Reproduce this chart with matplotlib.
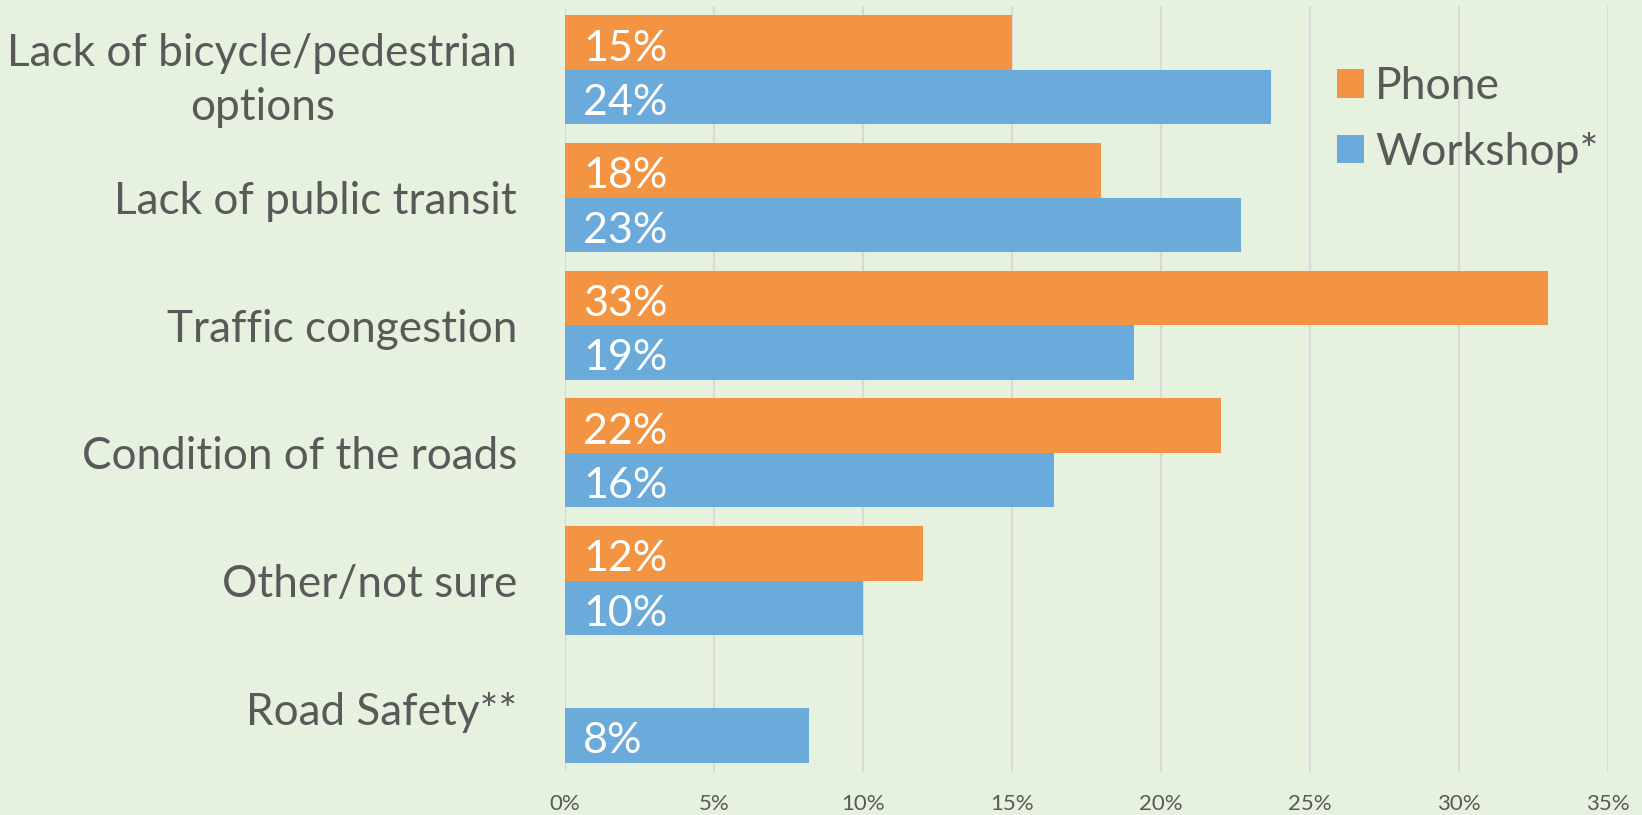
import matplotlib
matplotlib.use("Agg")
import matplotlib.pyplot as plt
import matplotlib.transforms as mtransforms
import numpy as np

categories = ["Lack of bicycle/pedestrian\noptions", "Lack of public transit",
              "Traffic congestion", "Condition of the roads", "Other/not sure",
              "Road Safety**"]
phone = [15, 18, 33, 22, 12, np.nan]
workshop = [23.7, 22.7, 19.1, 16.4, 10.0, 8.2]
workshop_labels = ["24%", "23%", "19%", "16%", "10%", "8%"]
phone_labels = ["15%", "18%", "33%", "22%", "12%", ""]
series_names = ["Phone", "Workshop*"]
xticks = [0, 5, 10, 15, 20, 25, 30, 35]
xtick_labels = ["0%", "5%", "10%", "15%", "20%", "25%", "30%", "35%"]

BG = "#E7F1E0"
ORANGE = "#F29442"
BLUE = "#6AABDC"
TXT = "#595959"
FONT = ["Lato", "DejaVu Sans"]

plt.rcParams['font.family'] = FONT

fig = plt.figure(figsize=(16.42, 8.15), dpi=100, facecolor=BG)
ax = fig.add_axes([565/1642, 1-772/815, (1608-565)/1642, (772-6)/815])
ax.set_facecolor(BG)

y = np.arange(len(categories))
h = 0.427
ax.barh(y - h/2, phone, height=h, color=ORANGE, label=series_names[0], zorder=3)
ax.barh(y + h/2, workshop, height=h, color=BLUE, label=series_names[1], zorder=3)

for i in range(len(categories)):
    if phone_labels[i]:
        ax.annotate(phone_labels[i], (0, y[i] - h/2), xytext=(18, -6), textcoords="offset pixels",
                    ha="left", va="center", color="white", fontsize=31, zorder=4)
    ax.annotate(workshop_labels[i], (0, y[i] + h/2), xytext=(18, -6), textcoords="offset pixels",
                ha="left", va="center", color="white", fontsize=31, zorder=4)

ax.set_xlim(0, 35)
ax.set_ylim(5.5, -0.5)
ax.set_xticks(xticks)
ax.set_xticklabels(xtick_labels, fontsize=16, color=TXT)
ax.set_yticks(y)
ax.set_yticklabels(categories, fontsize=31.8, color=TXT, multialignment="center", linespacing=1.4)
shift = mtransforms.ScaledTranslation(0, -2/72, fig.dpi_scale_trans)
for lbl in ax.get_yticklabels():
    lbl.set_transform(lbl.get_transform() + shift)
ax.tick_params(axis="both", length=0)
ax.tick_params(axis="y", pad=34.5)
ax.tick_params(axis="x", pad=16)
ax.grid(axis="x", color="#D9D9D9", linewidth=1.5, zorder=0)
for s in ax.spines.values():
    s.set_visible(False)

leg = ax.legend(loc="upper left", bbox_to_anchor=(1337/1642, 1-66/815), bbox_transform=fig.transFigure,
                frameon=False, fontsize=32, handlelength=0.61, handleheight=0.61,
                handletextpad=0.25, labelspacing=0.56, borderpad=0, borderaxespad=0)
for t in leg.get_texts():
    t.set_color(TXT)

fig.savefig("out.png", dpi=100, facecolor=BG)
